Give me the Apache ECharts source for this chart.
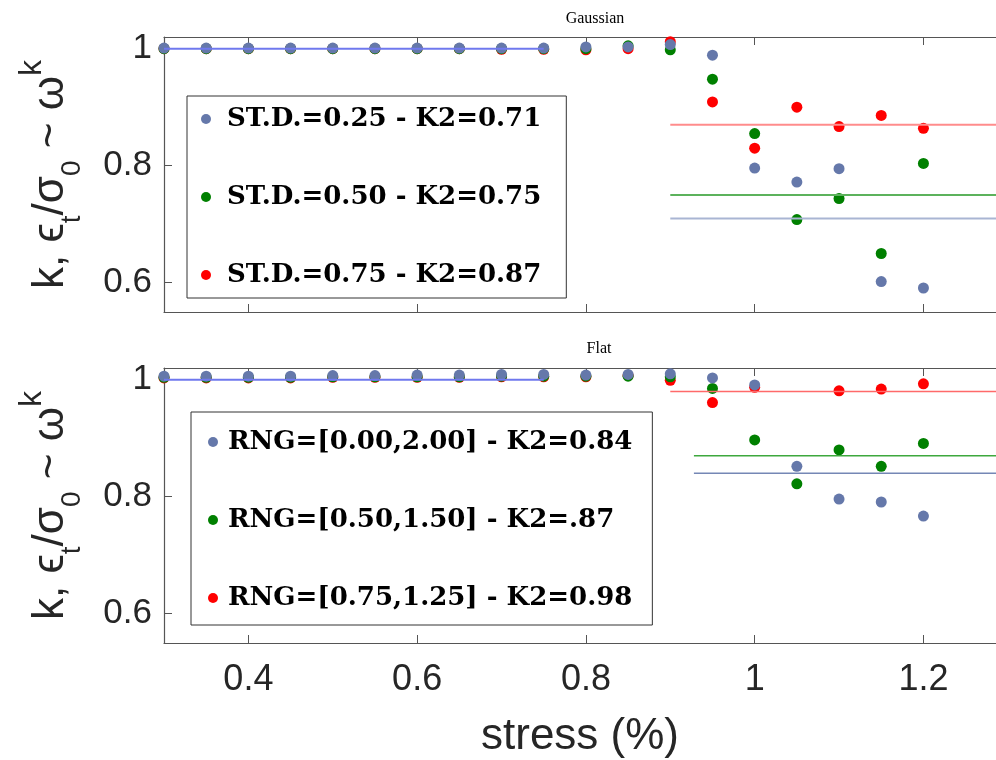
<!DOCTYPE html>
<html>
<head>
<meta charset="utf-8">
<script src="https://cdn.jsdelivr.net/npm/echarts@6/dist/echarts.min.js"></script>
<style>
  html, body { margin: 0; padding: 0; background: #fff; }
  #chart { width: 996px; height: 760px; }
</style>
</head>
<body>
<div id="chart"></div>
<script>
// Applied stress levels (%)
const stress = [0.30, 0.35, 0.40, 0.45, 0.50, 0.55, 0.60, 0.65, 0.70, 0.75,
                0.80, 0.85, 0.90, 0.95, 1.00, 1.05, 1.10, 1.15, 1.20];

// Gaussian distribution of strengths
const gaussNames = ['ST.D.=0.25 - K2=0.71', 'ST.D.=0.50 - K2=0.75', 'ST.D.=0.75 - K2=0.87'];
const gaussSd025 = [1.001, 1.001, 1.001, 1.001, 1.001, 1.001, 1.001, 1.001, 1.001, 1.001,
                    1.003, 1.003, 1.007, 0.989, 0.796, 0.772, 0.795, 0.602, 0.591];
const gaussSd050 = [1.000, 1.000, 1.000, 1.000, 1.000, 1.000, 1.000, 1.000, 1.000, 1.000,
                    1.000, 1.005, 0.998, 0.948, 0.855, 0.708, 0.744, 0.650, 0.804];
const gaussSd075 = [1.000, 1.000, 1.000, 1.000, 1.000, 1.000, 1.000, 1.000, 0.999, 0.999,
                    0.998, 1.000, 1.012, 0.909, 0.830, 0.900, 0.867, 0.886, 0.864];
const gaussK2 = [0.71, 0.75, 0.87];
const gaussFitFrom = [0.90, 0.90, 0.90];

// Flat (uniform) distribution of strengths
const flatNames = ['RNG=[0.00,2.00] - K2=0.84', 'RNG=[0.50,1.50] - K2=.87', 'RNG=[0.75,1.25] - K2=0.98'];
const flatRng000 = [1.006, 1.006, 1.006, 1.006, 1.007, 1.007, 1.008, 1.008, 1.009, 1.009,
                    1.008, 1.009, 1.010, 1.003, 0.991, 0.852, 0.796, 0.791, 0.767];
const flatRng050 = [1.004, 1.004, 1.004, 1.004, 1.005, 1.005, 1.005, 1.005, 1.006, 1.006,
                    1.006, 1.006, 1.005, 0.985, 0.897, 0.822, 0.880, 0.852, 0.891];
const flatRng075 = [1.003, 1.003, 1.003, 1.003, 1.004, 1.004, 1.004, 1.004, 1.005, 1.005,
                    1.005, 1.007, 0.999, 0.961, 0.987, null, 0.981, 0.984, 0.993];
const flatK2 = [0.84, 0.87, 0.98];
const flatFitFrom = [0.928, 0.928, 0.90];

// Reference level of the elastic plateau
const plateauFrom = 0.30;
const plateauTo = 0.75;
const plateauLevel = 1.0;

// visible axis window (the right part of the x range runs past the figure edge)
const xMin = 0.30, xMax = 1.286;
const yMin = 0.55, yMax = 1.02;

const pointColors = ['#6578aa', '#008000', '#ff0000'];
const gaussLineColors = ['#a9b5d3', '#5cb25c', '#ff8c8c'];
const flatLineColors = ['#7587b5', '#3ea83e', '#ff6a6a'];
const plateauColor = '#6f78ee';

const AXIS_COLOR = '#555555';
const TEXT_COLOR = '#262626';
const SANS = 'Liberation Sans, Arial, sans-serif';

function toPoints(ys) {
  const out = [];
  stress.forEach((x, i) => { if (ys[i] != null) out.push([x, ys[i]]); });
  return out;
}

function xAxes(gridIndex, withLabels) {
  const common = {
    type: 'value', gridIndex, min: xMin, max: xMax,
    splitLine: { show: false },
    axisLine: { show: true, onZero: false, lineStyle: { color: AXIS_COLOR, width: 1.2 } },
    axisTick: { show: true, inside: true, length: 8, lineStyle: { color: AXIS_COLOR } }
  };
  const bottom = Object.assign({}, common, {
    position: 'bottom',
    axisLabel: {
      show: withLabels, showMinLabel: false, showMaxLabel: false,
      fontSize: 36, color: TEXT_COLOR, fontFamily: SANS, margin: 19
    }
  });
  if (withLabels) {
    bottom.name = 'stress (%)';
    bottom.nameLocation = 'middle';
    bottom.nameGap = 72;
    bottom.nameTextStyle = { fontSize: 44, color: TEXT_COLOR, fontFamily: SANS };
  }
  const top = Object.assign({}, common, {
    position: 'top',
    axisLabel: { show: false }
  });
  return [bottom, top];
}

const yName = '{m|k, ϵ}{s|t}{m|/σ}{s|0}{m| ~ ω}{p|k}';
const yNameStyle = {
  color: TEXT_COLOR,
  fontFamily: SANS,
  rich: {
    m: { fontSize: 44, lineHeight: 70, color: TEXT_COLOR, fontFamily: SANS },
    s: { fontSize: 28, lineHeight: 10, verticalAlign: 'bottom', color: TEXT_COLOR, fontFamily: SANS },
    p: { fontSize: 32, lineHeight: 26, verticalAlign: 'top', color: TEXT_COLOR, fontFamily: SANS }
  }
};

function yAxis(gridIndex) {
  return {
    type: 'value', gridIndex, min: yMin, max: yMax, splitNumber: 2,
    position: 'left',
    splitLine: { show: false },
    axisLine: { show: true, onZero: false, lineStyle: { color: AXIS_COLOR, width: 1.2 } },
    axisTick: { show: true, inside: true, length: 8, lineStyle: { color: AXIS_COLOR } },
    axisLabel: {
      showMinLabel: false, showMaxLabel: false,
      fontSize: 35, color: TEXT_COLOR, fontFamily: SANS, margin: 12
    },
    name: yName,
    nameLocation: 'middle',
    nameRotate: 90,
    nameGap: 78,
    nameTextStyle: yNameStyle
  };
}

function scatterSeries(names, ysList, xIdx, yIdx) {
  // drawn red first, blue last so blue sits on top where points coincide
  const order = [2, 1, 0];
  return order.map(k => ({
    type: 'scatter', name: names[k], xAxisIndex: xIdx, yAxisIndex: yIdx,
    data: toPoints(ysList[k]), symbol: 'circle', symbolSize: 11,
    itemStyle: { color: pointColors[k], opacity: 1 },
    emphasis: { disabled: true }, z: 3
  }));
}

function levelSeries(levels, starts, colors, width, xIdx, yIdx) {
  return levels.map((lv, k) => ({
    type: 'line', xAxisIndex: xIdx, yAxisIndex: yIdx,
    data: [[starts[k], lv], [xMax, lv]],
    symbol: 'none', silent: true,
    lineStyle: { color: colors[k], width },
    z: 4
  }));
}

function plateauSeries(xIdx, yIdx) {
  return {
    type: 'line', xAxisIndex: xIdx, yAxisIndex: yIdx,
    data: [[plateauFrom, plateauLevel], [plateauTo, plateauLevel]],
    symbol: 'none', silent: true,
    lineStyle: { color: plateauColor, width: 2 },
    z: 5
  };
}

const legendText = {
  fontFamily: 'DejaVu Serif, Liberation Serif, serif',
  fontWeight: 'bold', fontSize: 26, lineHeight: 30, color: '#000'
};

const option = {
  animation: false,
  backgroundColor: '#ffffff',
  title: [
    { text: 'Gaussian', left: 590, top: 6, textAlign: 'center',
      textStyle: { fontFamily: 'Liberation Serif, serif', fontWeight: 'normal', fontSize: 16, color: '#000' } },
    { text: 'Flat', left: 594, top: 336, textAlign: 'center',
      textStyle: { fontFamily: 'Liberation Serif, serif', fontWeight: 'normal', fontSize: 16, color: '#000' } }
  ],
  grid: [
    { left: 164, top: 37, right: 0, height: 275, containLabel: false, outerBoundsMode: 'none' },
    { left: 164, top: 368, right: 0, height: 275, containLabel: false, outerBoundsMode: 'none' }
  ],
  xAxis: [...xAxes(0, false), ...xAxes(1, true)],
  yAxis: [yAxis(0), yAxis(1)],
  legend: [
    {
      data: gaussNames, orient: 'vertical', left: 187, top: 96,
      padding: [8, 25, 8, 14], itemGap: 48, itemWidth: 32, itemHeight: 10,
      icon: 'circle', selectedMode: false,
      backgroundColor: '#ffffff', borderColor: '#333333', borderWidth: 1, borderRadius: 0,
      textStyle: legendText, z: 10
    },
    {
      data: flatNames, orient: 'vertical', left: 191, top: 412,
      padding: [15, 20, 12, 17], itemGap: 48, itemWidth: 20, itemHeight: 10,
      icon: 'circle', selectedMode: false,
      backgroundColor: '#ffffff', borderColor: '#333333', borderWidth: 1, borderRadius: 0,
      textStyle: legendText, z: 10
    }
  ],
  series: [
    ...scatterSeries(gaussNames, [gaussSd025, gaussSd050, gaussSd075], 0, 0),
    ...levelSeries(gaussK2, gaussFitFrom, gaussLineColors, 2, 0, 0),
    plateauSeries(0, 0),
    ...scatterSeries(flatNames, [flatRng000, flatRng050, flatRng075], 2, 1),
    ...levelSeries(flatK2, flatFitFrom, flatLineColors, 1.5, 2, 1),
    plateauSeries(2, 1)
  ]
};

const chart = echarts.init(document.getElementById('chart'), null, { renderer: 'canvas' });
chart.setOption(option);
</script>
</body>
</html>
